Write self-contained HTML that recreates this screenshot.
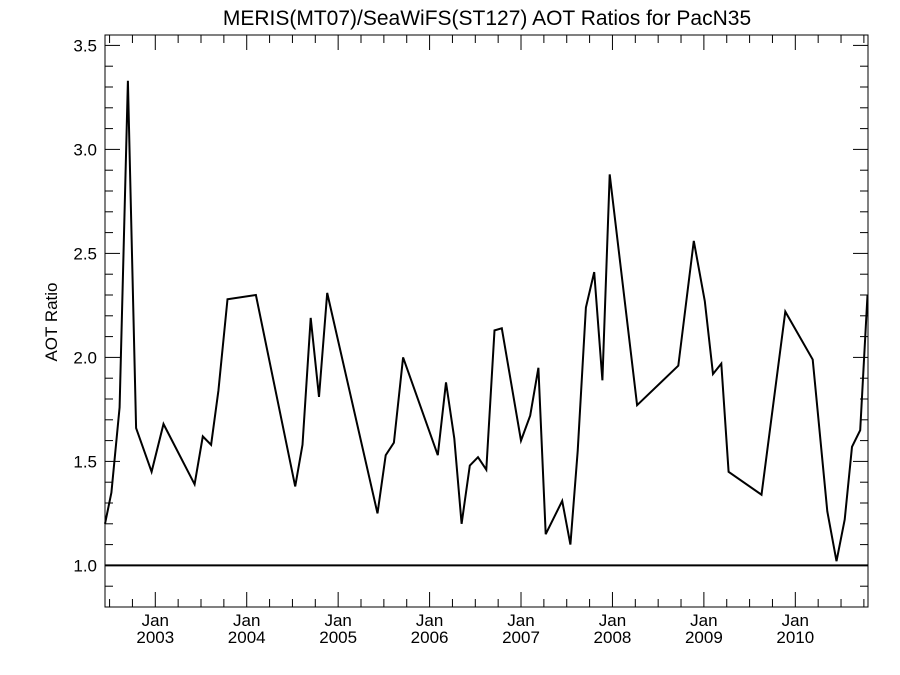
<!DOCTYPE html>
<html><head><meta charset="utf-8"><style>
body{margin:0;background:#fff;}
svg{display:block;font-family:"Liberation Sans",sans-serif;}
</style></head><body>
<svg id="chart" width="900" height="675" viewBox="0 0 900 675">
<text x="487" y="25" font-size="21" text-anchor="middle">MERIS(MT07)/SeaWiFS(ST127)  AOT Ratios for PacN35</text>
<text transform="translate(57,322) rotate(-90)" font-size="17" text-anchor="middle">AOT Ratio</text>
<g id="plot"></g>
</svg>
<script>
const dates=[2002.45,2002.52,2002.61,2002.70,2002.79,2002.96,2003.09,2003.43,2003.52,2003.61,2003.69,2003.79,2004.10,2004.53,2004.61,2004.70,2004.79,2004.88,2005.43,2005.52,2005.61,2005.71,2006.09,2006.18,2006.27,2006.35,2006.44,2006.53,2006.62,2006.71,2006.79,2007.00,2007.10,2007.19,2007.27,2007.45,2007.54,2007.62,2007.71,2007.80,2007.89,2007.97,2008.27,2008.72,2008.89,2009.01,2009.10,2009.19,2009.27,2009.63,2009.89,2010.19,2010.35,2010.45,2010.54,2010.62,2010.71,2010.79];
const ratios=[1.20,1.35,1.76,3.33,1.66,1.45,1.68,1.39,1.62,1.58,1.84,2.28,2.30,1.38,1.58,2.19,1.81,2.31,1.25,1.53,1.59,2.00,1.53,1.88,1.61,1.20,1.48,1.52,1.46,2.13,2.14,1.60,1.72,1.95,1.15,1.31,1.10,1.55,2.24,2.41,1.89,2.88,1.77,1.96,2.56,2.27,1.92,1.97,1.45,1.34,2.22,1.99,1.26,1.02,1.22,1.57,1.65,2.30];
const yTicks=[1.0,1.5,2.0,2.5,3.0,3.5];
const yearLabels=["2003","2004","2005","2006","2007","2008","2009","2010"];
const refValue=1.0;

const L=105,R=868,T=35,B=607;
const xMin=2002.45,xMax=2010.795,yMin=0.8,yMax=3.55;
const xs=v=>L+(v-xMin)/(xMax-xMin)*(R-L);
const ys=v=>B-(v-yMin)/(yMax-yMin)*(B-T);
const NS="http://www.w3.org/2000/svg";
const g=document.getElementById('plot');
function mk(tag,attrs){const e=document.createElementNS(NS,tag);for(const k in attrs)e.setAttribute(k,attrs[k]);g.appendChild(e);return e;}

const frame=mk('rect',{x:L,y:T,width:R-L,height:B-T,fill:'none',stroke:'#000','stroke-width':1});



// y minor/major ticks
for(let i=8;i<=35;i++){
  const v=i/10,y=ys(v),major=(i%5===0),len=major?15:8;
  const t1=mk('line',{x1:L,x2:L+len,y1:y,y2:y,stroke:'#000','stroke-width':1});
  
  
  const t2=mk('line',{x1:R,x2:R-len,y1:y,y2:y,stroke:'#000','stroke-width':1});
  
  
}
yTicks.forEach(v=>{
  const t=mk('text',{x:L-8,y:ys(v)+6,'font-size':17,'text-anchor':'end'});
  t.textContent=v.toFixed(1);
  
  
});
// x ticks quarterly
for(let q=2002.5;q<=xMax;q+=0.25){
  const x=xs(q),major=Math.abs(q-Math.round(q))<1e-6,len=major?15:8;
  const t1=mk('line',{x1:x,x2:x,y1:B,y2:B-len,stroke:'#000','stroke-width':1});
  
  
  const t2=mk('line',{x1:x,x2:x,y1:T,y2:T+len,stroke:'#000','stroke-width':1});
  
  
}
yearLabels.forEach(s=>{
  const x=xs(+s);
  const a=mk('text',{x:x,y:626,'font-size':17,'text-anchor':'middle'});a.textContent='Jan';
  
  
  const b=mk('text',{x:x,y:643,'font-size':17,'text-anchor':'middle'});b.textContent=s;
  
  
});
const ref=mk('line',{x1:L,x2:R,y1:ys(refValue),y2:ys(refValue),stroke:'#000','stroke-width':2});


const pts=dates.map((d,i)=>xs(d).toFixed(1)+','+ys(ratios[i]).toFixed(1)).join(' ');
const line=mk('polyline',{points:pts,fill:'none',stroke:'#000','stroke-width':2,'stroke-linejoin':'miter'});


</script>
</body></html>
